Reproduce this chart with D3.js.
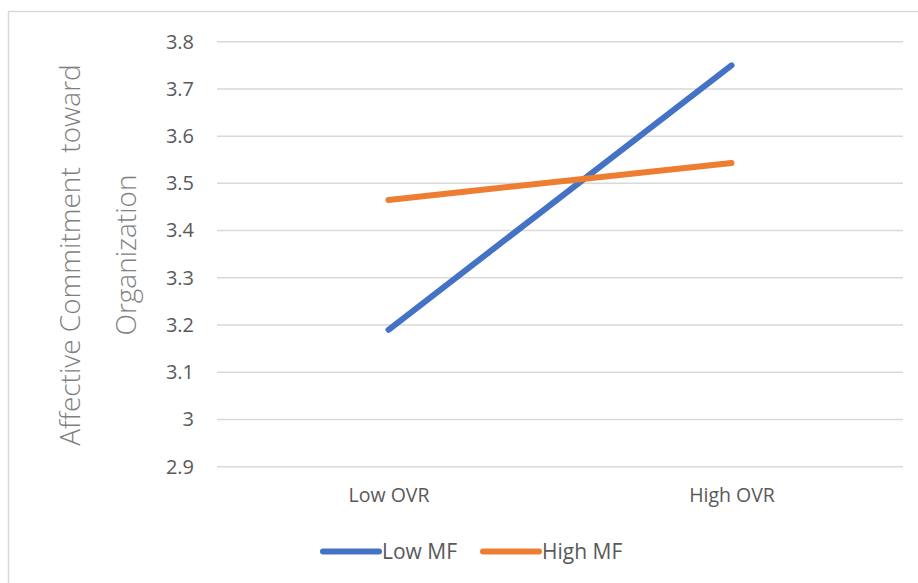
<!DOCTYPE html>
<html>
<head>
<meta charset="utf-8">
<script src="https://cdn.jsdelivr.net/npm/d3@7"></script>
<style>
  html, body { margin: 0; padding: 0; background: #fff; }
  svg { display: block; }
  text { font-family: "Open Sans", Lato, "Noto Sans", sans-serif; }
</style>
</head>
<body>
<svg id="chart" width="918" height="583"></svg>
<script>
// Interaction plot: affective commitment by OVR level, split by MF level
const categories = ["Low OVR", "High OVR"];
const seriesNames = ["Low MF", "High MF"];
const lowMF = [3.19, 3.75];
const highMF = [3.465, 3.543];
const yTicks = [2.9, 3.0, 3.1, 3.2, 3.3, 3.4, 3.5, 3.6, 3.7, 3.8];
const colors = ["#4472C4", "#ED7D31"];

const svg = d3.select("#chart");
const W = 918, H = 583;
const plot = { left: 217, right: 903, top: 41.7, bottom: 466.7 };
const FONT = "'Open Sans', Lato, sans-serif";

// chart frame
svg.append("rect")
  .attr("x", 8.5).attr("y", 11.5)
  .attr("width", W + 10).attr("height", H + 10)
  .attr("fill", "#fff").attr("stroke", "#d9d9d9").attr("stroke-width", 1.5);

const x = d3.scalePoint().domain(categories).range([plot.left, plot.right]).padding(0.5);
const y = d3.scaleLinear().domain([2.9, 3.8]).range([plot.bottom, plot.top]);

// gridlines
svg.append("g").selectAll("line").data(yTicks).join("line")
  .attr("x1", plot.left).attr("x2", plot.right)
  .attr("y1", d => y(d)).attr("y2", d => y(d))
  .attr("stroke", "#d9d9d9").attr("stroke-width", 1.5);

// y axis labels
const yAxis = d3.axisLeft(y).tickValues(yTicks).tickSize(0).tickPadding(0)
  .tickFormat(d => d3.format("")(+d.toFixed(1)));
const gy = svg.append("g").attr("transform", `translate(194,0)`).call(yAxis);
gy.select(".domain").remove();
gy.selectAll("text").attr("fill", "#595959").style("font-size", "20px")
  .style("font-family", FONT);

// x axis labels
const xAxis = d3.axisBottom(x).tickSize(0).tickPadding(0);
const gx = svg.append("g").attr("transform", `translate(0,488)`).call(xAxis);
gx.select(".domain").remove();
gx.selectAll("text").attr("fill", "#595959").style("font-size", "19.5px")
  .style("font-family", FONT);

// y axis title, two lines
const title = svg.append("g").attr("transform", "translate(0,255) rotate(-90)");
title.append("text").attr("x", 0).attr("y", 80)
  .attr("text-anchor", "middle").attr("fill", "#7f7f7f")
  .style("font-size", "28px").style("font-weight", "300")
  .text("Affective Commitment\u00a0 toward");
title.append("text").attr("x", 0).attr("y", 136)
  .attr("text-anchor", "middle").attr("fill", "#7f7f7f")
  .style("font-size", "28px").style("font-weight", "300")
  .text("Organization");

// series lines
const line = d3.line().x((d, i) => x(categories[i])).y(d => y(d));
[lowMF, highMF].forEach((vals, i) => {
  svg.append("path").datum(vals)
    .attr("d", line)
    .attr("fill", "none")
    .attr("stroke", colors[i])
    .attr("stroke-width", 6)
    .attr("stroke-linecap", "round");
});

// legend
const legendItems = [{ x: 323 }, { x: 483 }];
seriesNames.forEach((name, i) => {
  const g = svg.append("g").attr("transform", `translate(${legendItems[i].x},551.5)`);
  g.append("line").attr("x1", 0).attr("x2", 56).attr("y1", 0).attr("y2", 0)
    .attr("stroke", colors[i]).attr("stroke-width", 6).attr("stroke-linecap", "round");
  g.append("text").attr("x", 59).attr("y", 7.5)
    .attr("fill", "#595959").style("font-size", "21px").text(name);
});
</script>
</body>
</html>
